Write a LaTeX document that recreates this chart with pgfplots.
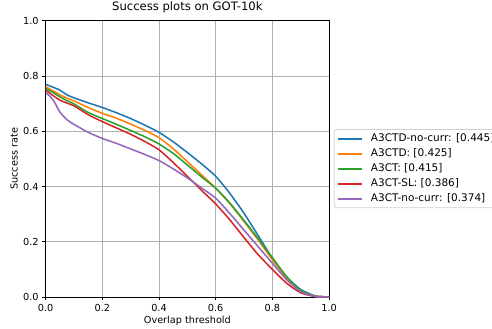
\documentclass[border=0pt]{standalone}
\usepackage{fontspec}
\setmainfont{DejaVu Sans}
\usepackage{pgfplots}
\pgfplotsset{compat=1.18}
\definecolor{c1}{HTML}{1F77B4}
\definecolor{c2}{HTML}{FF7F0E}
\definecolor{c3}{HTML}{2CA02C}
\definecolor{c4}{HTML}{D62728}
\definecolor{c5}{HTML}{9467BD}
\definecolor{gridc}{RGB}{176,176,176}
\definecolor{legc}{RGB}{208,208,208}
\begin{document}
\begin{tikzpicture}
\path[use as bounding box] (-45.6bp,-32bp) rectangle (446.4bp,297bp);
\begin{axis}[
  at={(0,0)}, anchor=south west,
  width=283.5bp, height=276.25bp, scale only axis,
  xmin=0, xmax=1, ymin=0, ymax=1,
  xtick={0,0.2,0.4,0.6,0.8,1.0},
  ytick={0,0.2,0.4,0.6,0.8,1.0},
  xtick pos=bottom, ytick pos=left,
  tick align=outside,
  major tick length=3.4bp,
  every tick/.style={black, line width=0.8bp},
  axis line style={black, line width=0.8bp},
  grid=major,
  major grid style={gridc, line width=0.8bp},
  /pgf/number format/assume math mode=true,
  /pgf/number format/fixed,
  /pgf/number format/fixed zerofill,
  /pgf/number format/precision=1,
  xticklabel style={font=\fontsize{9.7bp}{11.6bp}\selectfont, inner sep=0pt, anchor=north, yshift=-3.4bp},
  yticklabel style={font=\fontsize{9.7bp}{11.6bp}\selectfont, inner sep=0pt, anchor=east, xshift=-3.4bp},
  title={Success plots on GOT-10k},
  title style={at={(axis description cs:0.5,1.0172)}, anchor=base, inner sep=0pt, font=\fontsize{11.6bp}{13.9bp}\selectfont},
  xlabel={Overlap threshold},
  xlabel style={at={(axis description cs:0.5,-0.0959)}, anchor=base, inner sep=0pt, font=\fontsize{9.7bp}{11.6bp}\selectfont},
  ylabel={Success rate},
  ylabel style={at={(axis description cs:-0.0984,0.5)}, anchor=base, inner sep=0pt, font=\fontsize{9.7bp}{11.6bp}\selectfont},
  legend cell align=left,
  legend style={at={(axis description cs:1.017,0.608)}, anchor=north west,
    draw=legc, line width=0.8bp, rounded corners=2.5bp, fill=white,
    font=\fontsize{10.5bp}{12.6bp}\selectfont,
    inner xsep=3bp, inner ysep=4.4bp, row sep=5.4bp,
    nodes={inner sep=0pt, text height=7.6bp, text depth=2bp},
    /tikz/every odd column/.append style={column sep=7.6bp}},
  legend image code/.code={\draw[#1, line width=2bp] (0bp,0bp) -- (24bp,0bp);},
  every axis plot/.append style={line width=1.55bp, smooth, tension=0.35},
]
\addplot[c1] coordinates {
(0,0.770) (0.025,0.760) (0.05,0.749) (0.075,0.732) (0.1,0.721) (0.15,0.703) (0.2,0.686)
(0.25,0.667) (0.3,0.646) (0.35,0.622) (0.4,0.596) (0.45,0.562) (0.5,0.523) (0.55,0.482)
(0.6,0.437) (0.65,0.375) (0.7,0.303) (0.75,0.222) (0.8,0.140) (0.85,0.072) (0.9,0.027)
(0.95,0.004) (0.975,0.001) (1.0,0)};
\addlegendentry{A3CTD-no-curr: [0.445]}
\addplot[c2] coordinates {
(0,0.761) (0.025,0.747) (0.05,0.732) (0.075,0.720) (0.1,0.710) (0.15,0.686) (0.2,0.665)
(0.25,0.647) (0.3,0.626) (0.35,0.603) (0.4,0.577) (0.45,0.537) (0.5,0.490) (0.55,0.442)
(0.6,0.394) (0.65,0.338) (0.7,0.273) (0.75,0.206) (0.8,0.135) (0.85,0.069) (0.9,0.022)
(0.95,0.003) (0.975,0.001) (1.0,0)};
\addlegendentry{A3CTD: [0.425]}
\addplot[c3] coordinates {
(0,0.755) (0.025,0.741) (0.05,0.725) (0.075,0.711) (0.1,0.699) (0.15,0.668) (0.2,0.646)
(0.25,0.625) (0.3,0.603) (0.35,0.580) (0.4,0.554) (0.45,0.520) (0.5,0.478) (0.55,0.435)
(0.6,0.394) (0.65,0.340) (0.7,0.277) (0.75,0.211) (0.8,0.142) (0.85,0.074) (0.9,0.025)
(0.95,0.003) (0.975,0.001) (1.0,0)};
\addlegendentry{A3CT: [0.415]}
\addplot[c4] coordinates {
(0,0.749) (0.025,0.730) (0.05,0.713) (0.075,0.702) (0.1,0.692) (0.15,0.660) (0.2,0.635)
(0.25,0.612) (0.3,0.589) (0.35,0.563) (0.4,0.533) (0.45,0.487) (0.5,0.437) (0.55,0.386)
(0.6,0.337) (0.65,0.279) (0.7,0.215) (0.75,0.153) (0.8,0.100) (0.85,0.050) (0.9,0.015)
(0.95,0.002) (0.975,0.001) (1.0,0)};
\addlegendentry{A3CT-SL: [0.386]}
\addplot[c5] coordinates {
(0,0.740) (0.015,0.727) (0.03,0.708) (0.05,0.670) (0.075,0.642) (0.1,0.625) (0.15,0.596)
(0.2,0.574) (0.25,0.556) (0.3,0.536) (0.35,0.516) (0.4,0.494) (0.45,0.464) (0.5,0.431)
(0.55,0.395) (0.6,0.358) (0.65,0.302) (0.7,0.242) (0.75,0.182) (0.8,0.122) (0.85,0.063)
(0.9,0.019) (0.95,0.002) (0.975,0.001) (1.0,0)};
\addlegendentry{A3CT-no-curr: [0.374]}
\end{axis}
\end{tikzpicture}
\end{document}
